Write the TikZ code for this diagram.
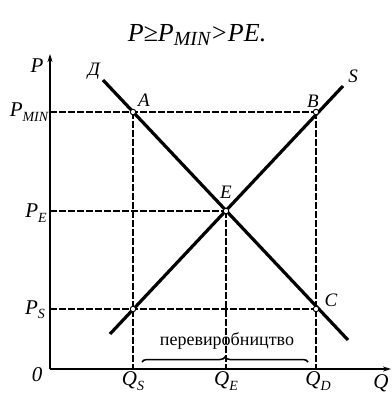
\documentclass[tikz,border=0pt]{standalone}
\usepackage{fontspec}
\setmainfont{Liberation Serif}
\usetikzlibrary{arrows.meta,decorations.pathreplacing}
\newcommand{\lsub}[1]{\raisebox{-0.45ex}{\fontsize{14}{14}\selectfont #1}}
\begin{document}
\begin{tikzpicture}[x=1pt,y=-1pt,
  axis/.style={line width=2pt,-{Stealth[length=8pt,width=5pt]}},
  curve/.style={line width=3.2pt},
  guide/.style={line width=1.3pt,dash pattern=on 7pt off 2pt},
  pt/.style={circle,draw,fill=white,line width=0.9pt,inner sep=0pt,minimum size=5.5pt},
  lab/.style={font=\fontsize{21}{21}\selectfont\itshape,inner sep=0pt},
  plab/.style={font=\fontsize{19}{19}\selectfont\itshape,inner sep=0pt}]
\useasboundingbox (0,0) rectangle (391,395);
% key points
\coordinate (O) at (50,369);
\coordinate (Ptop) at (50,54);
\coordinate (Qend) at (391,369);
\coordinate (Dtop) at (103,80);
\coordinate (Dbot) at (348,340);
\coordinate (Sbot) at (110,334);
\coordinate (Stop) at (343,86);
\coordinate (yMIN) at (50,112);
\coordinate (yE) at (50,211);
\coordinate (yS) at (50,309);
\coordinate (xS) at (133,369);
\coordinate (xE) at (226,369);
\coordinate (xD) at (316,369);
\coordinate (brL) at (142,362);
\coordinate (brR) at (308,362);
% guides
\draw[guide] (yMIN) -- (316,112);
\draw[guide] (yE) -- (226,211);
\draw[guide] (yS) -- (316,309);
\draw[guide] (133,112) -- (xS);
\draw[guide] (226,211) -- (xE);
\draw[guide] (316,112) -- (xD);
% axes
\draw[axis] (O) -- (Ptop);
\draw[axis] (O) -- (Qend);
% curves
\draw[curve] (Dtop) -- (Dbot);
\draw[curve] (Sbot) -- (Stop);
% points
\node[pt] (A) at (133,112) {};
\node[pt] (B) at (316,112) {};
\node[pt] (E) at (226,211) {};
\node[pt] (C) at (316,309) {};
\node[pt] (F) at (133,309) {};
% brace
\draw[line width=1.5pt,decorate,decoration={brace,amplitude=5pt}] (brL) -- (brR);
\node[inner sep=0pt,font=\fontsize{18}{18}\selectfont] (over) at (227,341) {перевиробництво};
% labels
\node[inner sep=0pt,font=\fontsize{26}{26}\selectfont\itshape] (title) at (197,35) {P≥P\raisebox{-0.4ex}{\fontsize{20}{20}\selectfont MIN}>PE.};
\node[lab] (Plab) at (37,66) {P};
\node[plab] (Dlab) at (94,71) {Д};
\node[plab] (Slab) at (353,76) {S};
\node[plab] (Alab) at (144,100) {A};
\node[plab] (Blab) at (313,101) {B};
\node[plab] (Elab) at (226,192) {E};
\node[plab] (Clab) at (331,300) {C};
\node[lab] (PMIN) at (29,112) {P\lsub{MIN}};
\node[lab] (PE) at (36,213) {P\lsub{E}};
\node[lab] (PS) at (35,310) {P\lsub{S}};
\node[lab] (zero) at (37,375) {0};
\node[lab] (QS) at (133,381) {Q\lsub{S}};
\node[lab] (QE) at (226,381) {Q\lsub{E}};
\node[lab] (QD) at (318,381) {Q\lsub{D}};
\node[lab] (Qlab) at (381,383) {Q};
\end{tikzpicture}
\end{document}
